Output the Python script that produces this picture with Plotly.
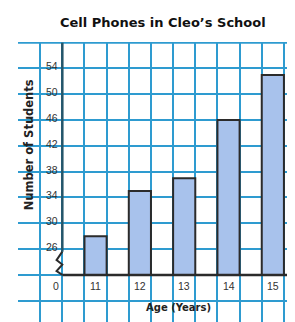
import plotly.graph_objects as go

ages = [11, 12, 13, 14, 15]
students = [28, 35, 37, 46, 53]
age_labels = ["11", "12", "13", "14", "15"]
y_tick_vals = [26, 30, 34, 38, 42, 46, 50, 54]
y_tick_labels = ["26", "30", "34", "38", "42", "46", "50", "54"]
axis_base = 22

GRID = "#2e9bd0"
DARK = "#2b2b2b"
FONT = "Liberation Sans"
BOLD = "DejaVu Sans"

# page body has an 8px default margin; compensate
OFF = 8
W, H = 295 - OFF, 322 - OFF
L, T = 18 - OFF, 42 - OFF
PW, PH = W - L, H - T

fig = go.Figure()
fig.add_trace(go.Bar(
    x=ages,
    y=[v - axis_base for v in students],
    base=axis_base,
    width=0.5,
    marker=dict(color="#a8c2ec", line=dict(color=DARK, width=2)),
    hoverinfo="skip",
))

shapes = []
shapes.append(dict(type="line", xref="paper", yref="y", x0=0, x1=1, y0=58, y1=58,
                   line=dict(color=GRID, width=2), layer="below"))
shapes.append(dict(type="line", xref="x", yref="y", x0=10.25, x1=10.25, y0=25.6, y1=58,
                   line=dict(color="#26566a", width=2.5), layer="above"))
shapes.append(dict(type="path", xref="x", yref="y",
                   path="M 10.25 25.6 L 10.12 24.3 L 10.25 23.6 L 10.12 22.6 L 10.25 22",
                   line=dict(color=DARK, width=2), layer="above"))
shapes.append(dict(type="line", xref="x", yref="y", x0=10.25, x1=15.45, y0=axis_base, y1=axis_base,
                   line=dict(color=DARK, width=2.5), layer="above"))

annotations = []
for v, t in zip(y_tick_vals, y_tick_labels):
    annotations.append(dict(x=10.2, y=v, xref="x", yref="y", text=t, showarrow=False,
                            xanchor="right", yanchor="bottom", yshift=-6,
                            font=dict(family=FONT, size=10.5, color="#333333")))
annotations.append(dict(x=10.1, y=axis_base, xref="x", yref="y", text="0", showarrow=False,
                        xanchor="center", yanchor="top", yshift=-3,
                        font=dict(family=FONT, size=10.5, color="#333333")))
for a, t in zip(ages, age_labels):
    annotations.append(dict(x=a, y=axis_base, xref="x", yref="y", text=t, showarrow=False,
                            xanchor="center", yanchor="top", yshift=-3,
                            font=dict(family=FONT, size=10.5, color="#333333")))
annotations.append(dict(x=12.88, y=axis_base, xref="x", yref="y", text="<b>Age (Years)</b>",
                        showarrow=False, xanchor="center", yanchor="middle", yshift=-33,
                        font=dict(family=BOLD, size=10, color="#222222")))
annotations.append(dict(x=9.5, y=42.1, xref="x", yref="y", text="<b>Number of Students</b>",
                        showarrow=False, textangle=-90, xanchor="center", yanchor="middle",
                        font=dict(family=BOLD, size=11.5, color="#222222")))
annotations.append(dict(x=(163 - 18) / PW, y=1 + (42 - 22) / PH, xref="paper", yref="paper",
                        text="<b>Cell Phones in Cleo’s School</b>",
                        showarrow=False, xanchor="center", yanchor="middle",
                        font=dict(family=BOLD, size=13, color="#111111")))

fig.update_layout(
    width=W, height=H,
    margin=dict(l=L, r=0, t=T, b=0),
    paper_bgcolor="white", plot_bgcolor="white",
    showlegend=False,
    shapes=shapes,
    annotations=annotations,
    xaxis=dict(range=[9.25, 15.5], showgrid=True, gridcolor=GRID, gridwidth=2,
               tick0=10.75, dtick=0.5, showticklabels=False, zeroline=False,
               showline=False, fixedrange=True),
    yaxis=dict(range=[14.7, 58.1], showgrid=True, gridcolor=GRID, gridwidth=2,
               tick0=18, dtick=4, showticklabels=False, zeroline=False,
               showline=False, fixedrange=True),
)

fig.write_html("out.html")
